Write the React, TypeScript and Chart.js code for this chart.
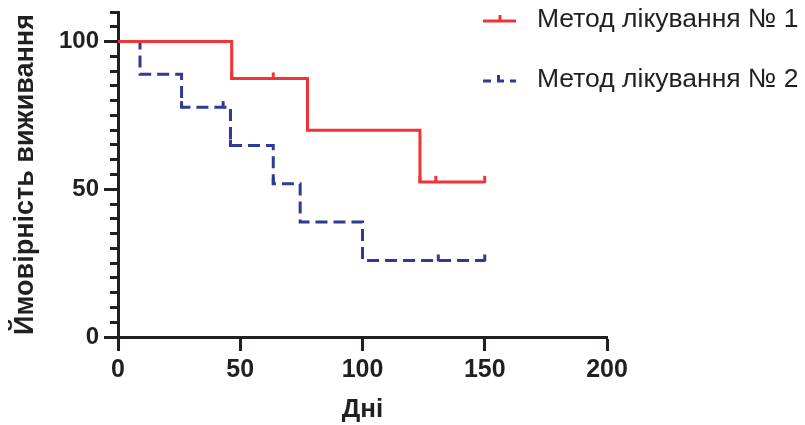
import React, { useEffect, useRef } from "react";
import { Chart, registerables } from "chart.js";

Chart.register(...registerables);

const seriesLabels = ["Метод лікування № 1", "Метод лікування № 2"];
const method1Days = [0, 46.5, 77.5, 123.5, 150];
const method1Survival = [100, 87.5, 70, 52.5, 52.5];
const method1CensorDays = [46.5, 63.5, 77.5, 123.5, 130, 150];
const method1CensorSurvival = [87.5, 87.5, 70, 52.5, 52.5, 52.5];
const method2Days = [0, 9, 26, 46, 63.5, 74.5, 100, 150];
const method2Survival = [100, 88.9, 77.8, 64.8, 51.9, 38.9, 25.9, 25.9];
const method2CensorDays = [26, 43, 46, 63.5, 131, 150];
const method2CensorSurvival = [77.8, 77.8, 64.8, 51.9, 25.9, 25.9];
const xTickValues = [0, 50, 100, 150, 200];
const yLabelValues = [0, 50, 100];

const RED = "#ef3338";
const BLUE = "#2e3a94";
const INK = "#231f20";
const FONT = "'Liberation Sans', Arial, sans-serif";

const censorPlugin = {
  id: "censorTicks",
  afterDatasetsDraw(chart: any) {
    const { ctx, scales } = chart;
    const sets = [
      { days: method1CensorDays, surv: method1CensorSurvival, color: RED },
      { days: method2CensorDays, surv: method2CensorSurvival, color: BLUE },
    ];
    ctx.save();
    ctx.lineWidth = 3;
    ctx.lineCap = "butt";
    sets.forEach((s) => {
      ctx.strokeStyle = s.color;
      s.days.forEach((d, i) => {
        const px = scales.x.getPixelForValue(d);
        const py = scales.y.getPixelForValue(s.surv[i]);
        ctx.beginPath();
        ctx.moveTo(px, py + 1);
        ctx.lineTo(px, py - 6);
        ctx.stroke();
      });
    });
    ctx.restore();
  },
};

const legendPlugin = {
  id: "kmLegend",
  afterDraw(chart: any) {
    const { ctx } = chart;
    ctx.save();
    ctx.lineWidth = 3;
    ctx.strokeStyle = RED;
    ctx.beginPath();
    ctx.moveTo(483, 21);
    ctx.lineTo(516, 21);
    ctx.moveTo(500, 22);
    ctx.lineTo(500, 15);
    ctx.stroke();
    ctx.strokeStyle = BLUE;
    ctx.beginPath();
    ctx.moveTo(483, 81);
    ctx.lineTo(491, 81);
    ctx.moveTo(497, 81);
    ctx.lineTo(504, 81);
    ctx.moveTo(498.5, 82);
    ctx.lineTo(498.5, 75);
    ctx.moveTo(510, 81);
    ctx.lineTo(516, 81);
    ctx.stroke();
    ctx.fillStyle = INK;
    ctx.font = `26.5px ${FONT}`;
    ctx.textBaseline = "middle";
    ctx.textAlign = "left";
    ctx.fillText(seriesLabels[0], 537, 20);
    ctx.fillText(seriesLabels[1], 537, 80);
    ctx.restore();
  },
};

export default function App() {
  const ref = useRef<HTMLCanvasElement | null>(null);
  useEffect(() => {
    if (!ref.current) return;
    const chart = new Chart(ref.current, {
      type: "line",
      data: {
        datasets: [
          {
            label: seriesLabels[0],
            data: method1Days.map((d, i) => ({ x: d, y: method1Survival[i] })),
            borderColor: RED,
            borderWidth: 3,
            stepped: "before",
            pointRadius: 0,
            fill: false,
          },
          {
            label: seriesLabels[1],
            data: method2Days.map((d, i) => ({ x: d, y: method2Survival[i] })),
            borderColor: BLUE,
            borderWidth: 3,
            borderDash: [12, 6],
            stepped: "before",
            pointRadius: 0,
            fill: false,
          },
        ],
      },
      options: {
        animation: false,
        responsive: false,
        maintainAspectRatio: false,
        layout: { padding: { top: 12, right: 198, left: 0, bottom: 0 } },
        plugins: { legend: { display: false }, tooltip: { enabled: false } },
        scales: {
          x: {
            type: "linear",
            min: 0,
            max: 200,
            afterBuildTicks: (scale: any) => {
              scale.ticks = xTickValues.map((v) => ({ value: v }));
            },
            afterFit: (scale: any) => {
              scale.height = 88;
            },
            ticks: {
              color: INK,
              font: { family: FONT, size: 25, weight: "bold" },
              padding: 4,
              maxRotation: 0,
            },
            grid: {
              drawOnChartArea: false,
              tickLength: 14,
              tickWidth: 3,
              tickColor: INK,
            },
            border: { color: INK, width: 3 },
            title: {
              display: true,
              text: "Дні",
              color: INK,
              font: { family: FONT, size: 26, weight: "bold" },
              padding: { top: 2, bottom: 0 },
            },
          },
          y: {
            type: "linear",
            min: 0,
            max: 110,
            afterFit: (scale: any) => {
              scale.width = 118;
              scale.paddingTop = 0;
              scale.paddingBottom = 0;
            },
            ticks: {
              stepSize: 5,
              autoSkip: false,
              color: INK,
              font: { family: FONT, size: 24, weight: "bold" },
              padding: 5,
              callback: (v: any) => (yLabelValues.includes(Number(v)) ? String(v) : ""),
            },
            grid: {
              drawOnChartArea: false,
              tickLength: 14,
              tickWidth: 3,
              tickColor: INK,
              tickBorderDash: (c: any) =>
                c.tick && yLabelValues.includes(c.tick.value) ? [] : [0, 6, 8, 100],
            },
            border: { color: INK, width: 3 },
            title: {
              display: true,
              text: "Ймовірність виживання",
              color: INK,
              font: { family: FONT, size: 27, weight: "bold" },
              padding: { top: 9, bottom: 0 },
            },
          },
        },
      },
      plugins: [censorPlugin, legendPlugin],
    } as any);
    return () => chart.destroy();
  }, []);
  return (
    <div style={{ position: "fixed", left: 0, top: 0, width: 805, height: 425, background: "#fff" }}>
      <canvas ref={ref} width={805} height={425} style={{ width: 805, height: 425 }} />
    </div>
  );
}
